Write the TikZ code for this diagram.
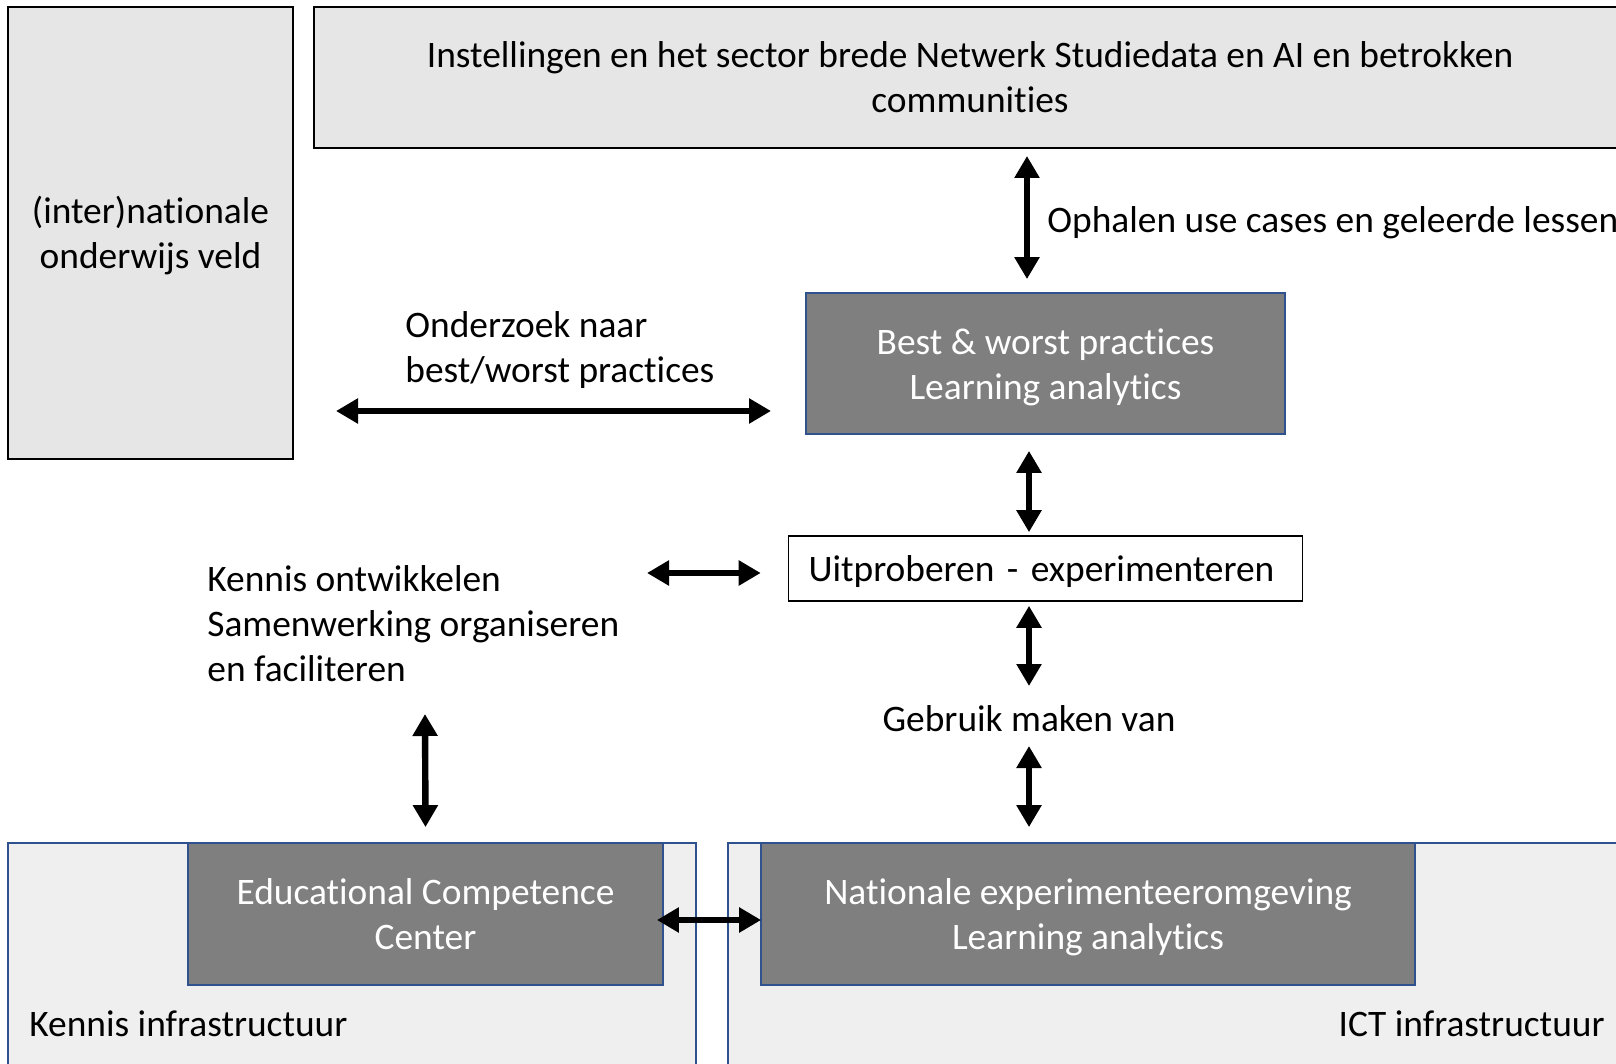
\documentclass[tikz,border=0pt]{standalone}
\usepackage{fontspec}
\setmainfont{Carlito}[Ligatures=NoCommon]
\usetikzlibrary{arrows.meta}
\definecolor{boxgray}{HTML}{E7E6E6}
\definecolor{darkbox}{HTML}{7F7F7F}
\definecolor{edgeblue}{HTML}{2F528F}
\definecolor{infra}{HTML}{EFEFEF}
\tikzset{
  txt/.style={font=\fontsize{18.7pt}{22.5pt}\selectfont},
  twoline/.style={text height=37pt, text depth=1.5pt},
  lightbox/.style={txt, twoline, draw=black, line width=1pt, fill=boxgray, align=center, inner sep=0pt},
  graybox/.style={txt, twoline, draw=edgeblue, line width=0.9pt, fill=darkbox, text=white, align=center, inner sep=0pt},
  infrabox/.style={draw=edgeblue, line width=0.9pt, fill=infra},
  lbl/.style={txt, inner sep=0pt, align=left},
  dbl/.style={line width=3.2pt, {Triangle[length=11pt,width=12pt]}-{Triangle[length=11pt,width=12pt]}}
}
\begin{document}
\begin{tikzpicture}[x=0.5pt,y=-0.5pt]
\useasboundingbox (0,0) rectangle (1616,1064);
\clip (0,0) rectangle (1616,1064);
\fill[white] (0,0) rectangle (1616,1064);

% containers
\path[infrabox] (8,843) rectangle (696,1090);
\path[infrabox] (728,843) rectangle (1640,1090);

% boxes
\node[lightbox, minimum width=142.5pt, minimum height=226pt] (veld) at (150.5,233) {(inter)nationale\\onderwijs veld};
\node[lightbox, minimum width=656pt, minimum height=70.5pt] (top) at (970,77.5) {Instellingen en het sector brede Netwerk Studiedata en AI en betrokken\\communities};
\node[graybox, minimum width=239.5pt, minimum height=70.5pt] (best) at (1045.5,363.5) {Best \& worst practices\\Learning analytics};
\node[txt, draw=black, line width=0.8pt, fill=white, minimum height=32.5pt, text width=237pt, text height=13.5pt, text depth=1pt, inner xsep=10pt, inner ysep=0pt, align=left] (uit) at (1045.5,568.5) {Uitproberen - experimenteren};
\node[graybox, minimum width=237.5pt, minimum height=71pt] (ecc) at (425.5,914) {Educational Competence\\Center};
\node[graybox, minimum width=327pt, minimum height=71pt] (nat) at (1088,914) {Nationale experimenteeromgeving\\Learning analytics};

% labels
\node[lbl, anchor=west] (ophalen) at (1047,223) {Ophalen use cases en geleerde lessen};
\node[lbl, anchor=west] (onderzoek) at (405,350) {Onderzoek naar\\best/worst practices};
\node[lbl, anchor=west] (kennis) at (207,624) {Kennis ontwikkelen\\Samenwerking organiseren\\en faciliteren};
\node[txt, inner sep=0pt] (gebruik) at (1029,719) {Gebruik maken van};
\node[lbl, anchor=west] (kinfra) at (29,1024) {Kennis infrastructuur};
\node[lbl, anchor=east] (ictinfra) at (1605,1024) {ICT infrastructuur};

% free ends
\coordinate (oleft) at (336,411);
\coordinate (oright) at (771,411);
\coordinate (kleft) at (647,573);
\coordinate (ktop) at (425,714);

% connectors
\draw[dbl] ([xshift=28.5pt,yshift=-3.5pt]top.south) -- ([xshift=-9.25pt,yshift=6.5pt]best.north);
\draw[dbl] (oleft) -- (oright);
\draw[dbl] ([xshift=-8.25pt,yshift=-8pt]best.south) -- ([xshift=-8.25pt,yshift=1.5pt]uit.north);
\draw[dbl] (kleft) -- ([xshift=-13.5pt,yshift=-2.25pt]uit.west);
\draw[dbl] ([xshift=-8.25pt,yshift=-2pt]uit.south) -- ([yshift=16.5pt]gebruik.center);
\draw[dbl] ([yshift=-13.5pt]gebruik.center) -- ([xshift=-29.5pt,yshift=7.5pt]nat.north);
\draw[dbl] (ktop) -- ([yshift=7.5pt]ecc.north);
\draw[dbl] ([xshift=-3.5pt,yshift=-3pt]ecc.east) -- ([xshift=0.5pt,yshift=-3pt]nat.west);
\end{tikzpicture}
\end{document}
